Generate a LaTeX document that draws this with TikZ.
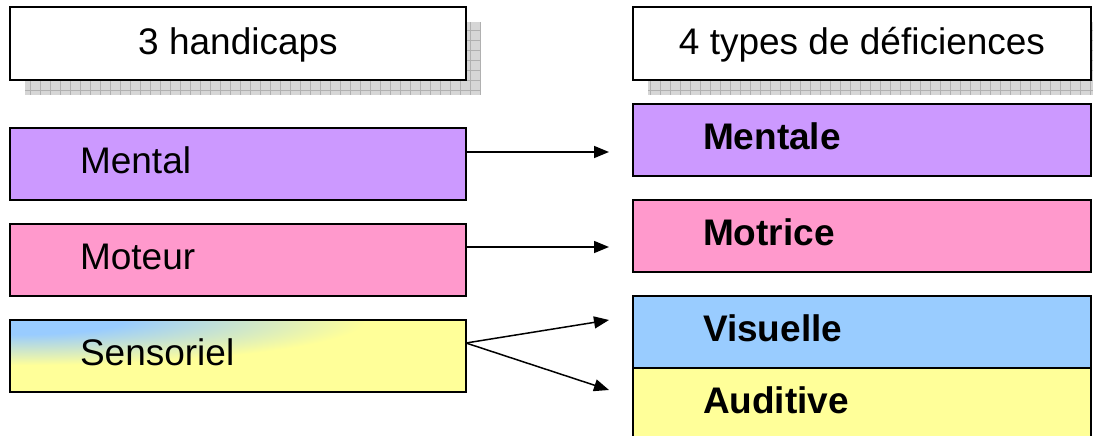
\documentclass[tikz,border=0pt]{standalone}
\usepackage{fontspec}
\setmainfont{Liberation Sans}
\usetikzlibrary{arrows.meta,calc,backgrounds}
\definecolor{cpurple}{HTML}{CC99FF}
\definecolor{cpink}{HTML}{FF99CC}
\definecolor{cblue}{HTML}{99CCFF}
\definecolor{cyellow}{HTML}{FFFF99}
\pgfdeclareradialshading{sensfade}{\pgfpoint{0bp}{0bp}}{color(0bp)=(cblue); color(8bp)=(cblue); color(25bp)=(cyellow); color(50bp)=(cyellow)}
\begin{document}
\begin{tikzpicture}[x=1pt,y=-1pt,
  box/.style={draw=black, line width=1.6pt, minimum width=456pt, minimum height=72pt,
    text width=316pt, inner xsep=70pt, align=left, text height=27pt, text depth=9pt,
    font=\fontsize{37}{44}\selectfont, outer sep=0pt},
  hbox/.style={draw=black, line width=1.6pt, fill=white, minimum width=456pt,
    minimum height=73pt, align=center, text height=27pt, text depth=4pt,
    font=\fontsize{37}{44}\selectfont, outer sep=0pt},
  rbox/.style={box, minimum width=458pt, text width=318pt,
    font=\bfseries\fontsize{37}{44}\selectfont},
  arr/.style={line width=1.5pt, -{Triangle[length=15pt,width=12pt]}},
  shadowfill/.style={fill=gray!32},
  shadowgrid/.style={draw=gray!62, line width=0.6pt}]
\useasboundingbox (0,0) rectangle (1093,436);
\clip (0,0) rectangle (1093,436);
\node[hbox] (h1) at (238,43.5) {3 handicaps};
\node[hbox, minimum width=458pt] (h2) at (862,43.5) {4 types de déficiences};

\node[box, fill=cpurple] (l1) at (238,164) {Mental};
\node[box, fill=cpink] (l2) at (238,260) {Moteur};
\node[box, fill=cyellow, path picture={
    \begin{pgfscope}
      \pgftransformshift{\pgfpointanchor{path picture bounding box}{north west}}
      \pgftransformxscale{14.2}
      \pgftransformyscale{1.8}
      \pgflowlevelsynccm
      \pgfuseshading{sensfade}
    \end{pgfscope}}]
  (l3) at (238,356) {Sensoriel};

\node[rbox, fill=cpurple] (r1) at (862,140) {Mentale};
\node[rbox, fill=cpink] (r2) at (862,236) {Motrice};
\node[rbox, fill=cblue] (r3) at (862,332) {Visuelle};
\node[rbox, fill=cyellow] (r4) at (862,404) {Auditive};

\draw[arr] ($(l1.east)+(0,-12)$) -- ($(r1.west)+(-24,12)$);
\draw[arr] ($(l2.east)+(0,-13)$) -- ($(r2.west)+(-24,11)$);
\draw[arr] ($(l3.east)+(0,-13)$) -- ($(r3.west)+(-24,-12)$);
\draw[arr] ($(l3.east)+(0,-13)$) -- ($(r4.west)+(-24,-14)$);

\begin{scope}[on background layer]
  \foreach \n in {h1,h2} {
    \fill[shadowfill] ($(\n.south west)+(15,15)$) rectangle ($(\n.north east)+(15,15)$);
    \begin{scope}
      \clip ($(\n.south west)+(15,15)$) rectangle ($(\n.north east)+(15,15)$);
      \draw[shadowgrid, step=10pt] ($(\n.south west)+(15,15)$) grid ($(\n.north east)+(15,15)$);
    \end{scope}
  }
\end{scope}
\end{tikzpicture}
\end{document}
